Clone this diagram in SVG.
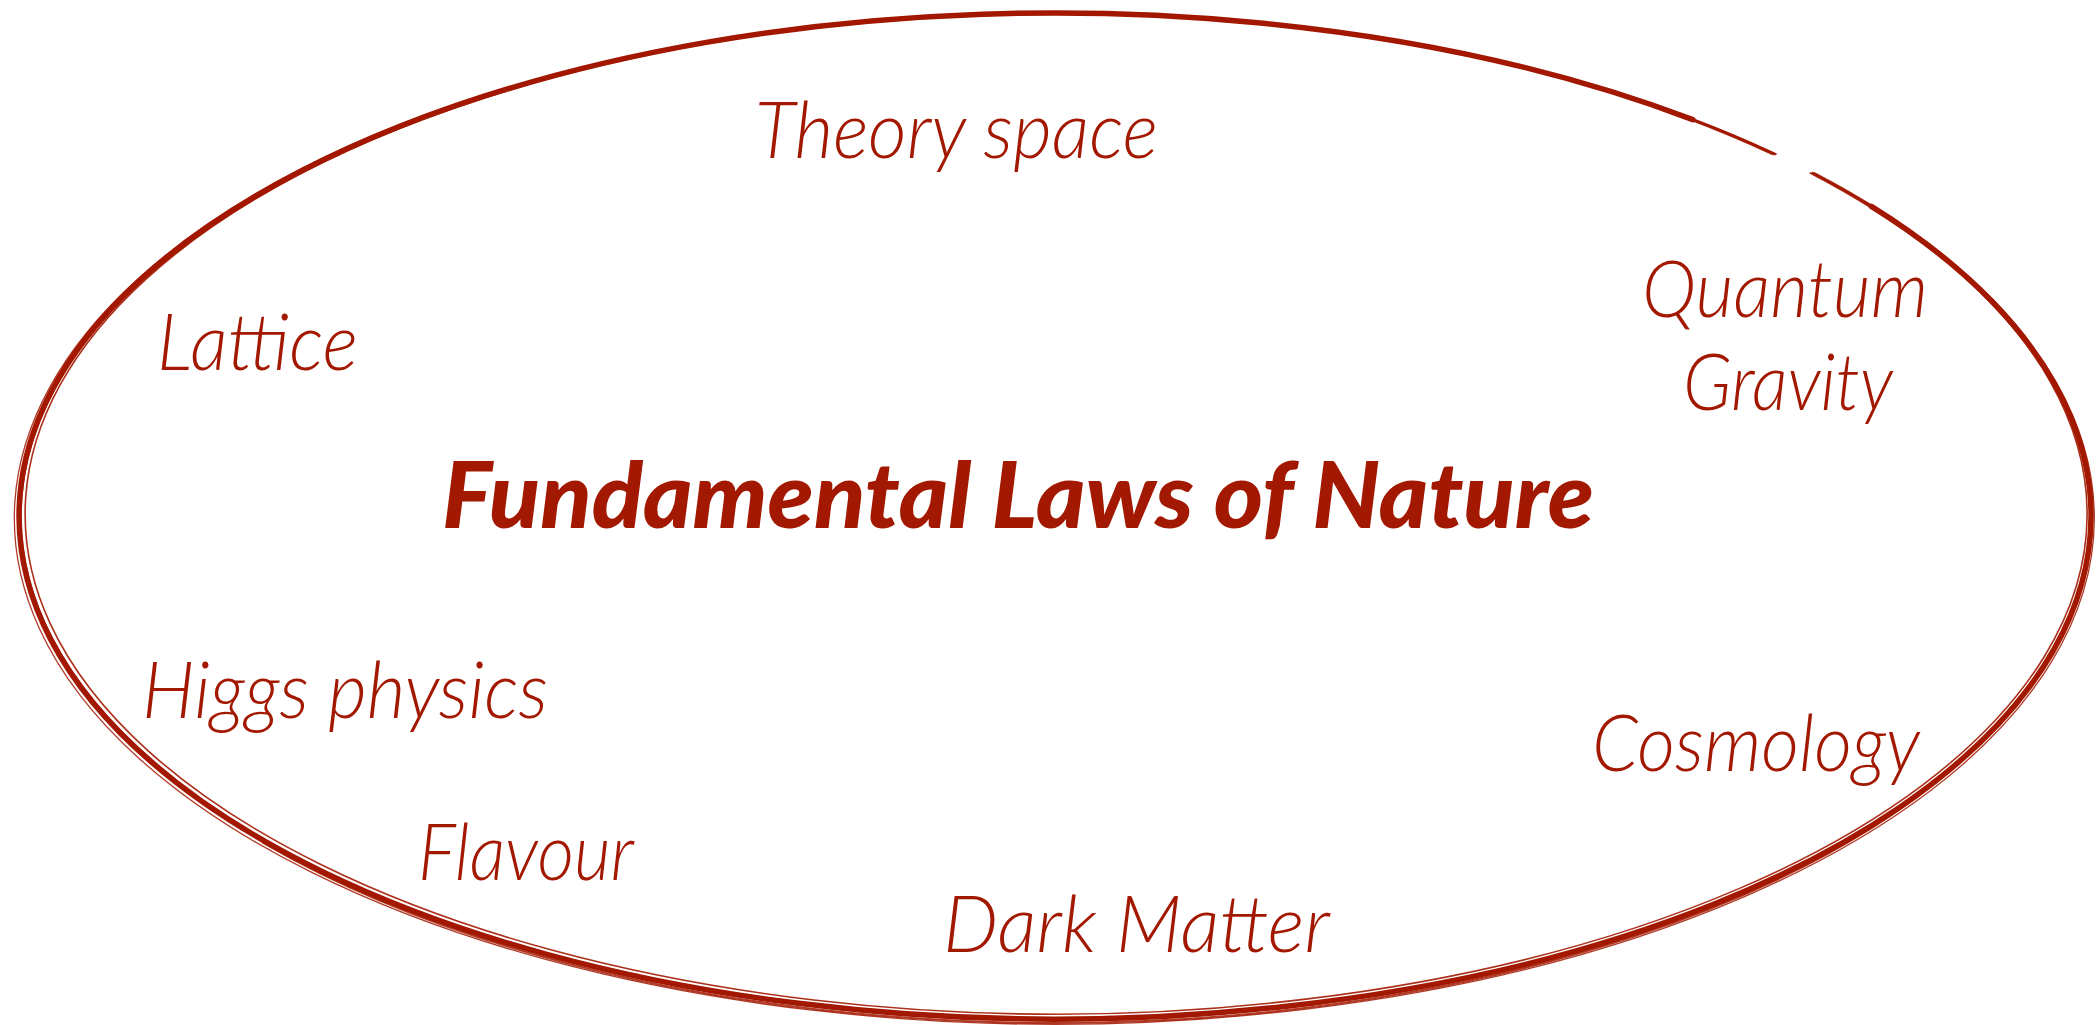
<svg xmlns="http://www.w3.org/2000/svg" width="2096" height="1025" viewBox="0 0 2096 1025">
  <style>
    .ring { fill: none; stroke: #a31800; stroke-linecap: round; }
    .lbl { font-family: Lato, "Open Sans", "Liberation Sans", sans-serif; font-style: italic; font-weight: 300; font-size: 78px; fill: #a31800; }
    .title { font-family: Lato, "Open Sans", "Liberation Sans", sans-serif; font-style: italic; font-weight: 900; font-size: 92px; fill: #a31800; }
  </style>
  <rect width="2096" height="1025" fill="#ffffff"/>
  <g id="boundary">
    <!-- main thick stroke, leaving the upper-right gap -->
    <path class="ring" stroke-width="5.5" d="M1871.4,206.3 A1036,503 0 1 1 1692.8,119.6"/>
    <!-- thinner strokes approaching the gap -->
    <path class="ring" stroke-width="2.5" d="M1692.8,119.6 A1036,503 0 0 1 1774.7,154.2"/>
    <path class="ring" stroke-width="2.5" d="M1812.7,173.0 A1036,503 0 0 1 1871.4,206.3"/>
    <!-- sketchy extra strokes -->
    <path class="ring" stroke-width="1.6" opacity="0.9" d="M1810.1,173.0 A1031,500 0 1 1 1772.2,154.3"/>
    <path class="ring" stroke-width="1.3" opacity="0.85" d="M1814.7,172.9 A1040,506 0 1 1 1776.5,154.0"/>
    <!-- heavier band along the bottom -->
    <path class="ring" stroke-width="3" d="M2028.5,688.0 A1036,503 0 0 1 157.8,767.5"/>
    <path class="ring" stroke-width="2" opacity="0.85" d="M1950.5,770.5 A1034,505 0 0 1 262.9,842.6"/>
    <!-- left side -->
    <path class="ring" stroke-width="1.6" opacity="0.85" d="M159.4,766.5 A1033,501 0 0 1 207.8,228.6"/>
    <!-- top band -->
    <path class="ring" stroke-width="2.5" d="M82.4,343.3 A1035,502 0 0 1 1648.7,103.8"/>
    <path class="ring" stroke-width="1.4" opacity="0.85" d="M205.5,227.8 A1037,506 0 0 1 1409.7,42.5"/>
  </g>
  <g id="connectors"/>
  <g id="title">
    <text class="title" x="442" y="528" textLength="1152" lengthAdjust="spacingAndGlyphs">Fundamental Laws of Nature</text>
  </g>
  <g id="theory-space">
    <text class="lbl" x="755" y="158" textLength="403" lengthAdjust="spacingAndGlyphs">Theory space</text>
  </g>
  <g id="lattice">
    <text class="lbl" x="157" y="370" textLength="201" lengthAdjust="spacingAndGlyphs">Lattice</text>
  </g>
  <g id="quantum-gravity">
    <text class="lbl" x="1642" y="317" textLength="286" lengthAdjust="spacingAndGlyphs">Quantum</text>
    <text class="lbl" x="1683" y="410" textLength="210" lengthAdjust="spacingAndGlyphs">Gravity</text>
  </g>
  <g id="higgs-physics">
    <text class="lbl" x="142" y="718" textLength="406" lengthAdjust="spacingAndGlyphs">Higgs physics</text>
  </g>
  <g id="cosmology">
    <text class="lbl" x="1592" y="771" textLength="328" lengthAdjust="spacingAndGlyphs">Cosmology</text>
  </g>
  <g id="flavour">
    <text class="lbl" x="418" y="880" textLength="216" lengthAdjust="spacingAndGlyphs">Flavour</text>
  </g>
  <g id="dark-matter">
    <text class="lbl" x="943" y="952" textLength="387" lengthAdjust="spacingAndGlyphs">Dark Matter</text>
  </g>
</svg>
